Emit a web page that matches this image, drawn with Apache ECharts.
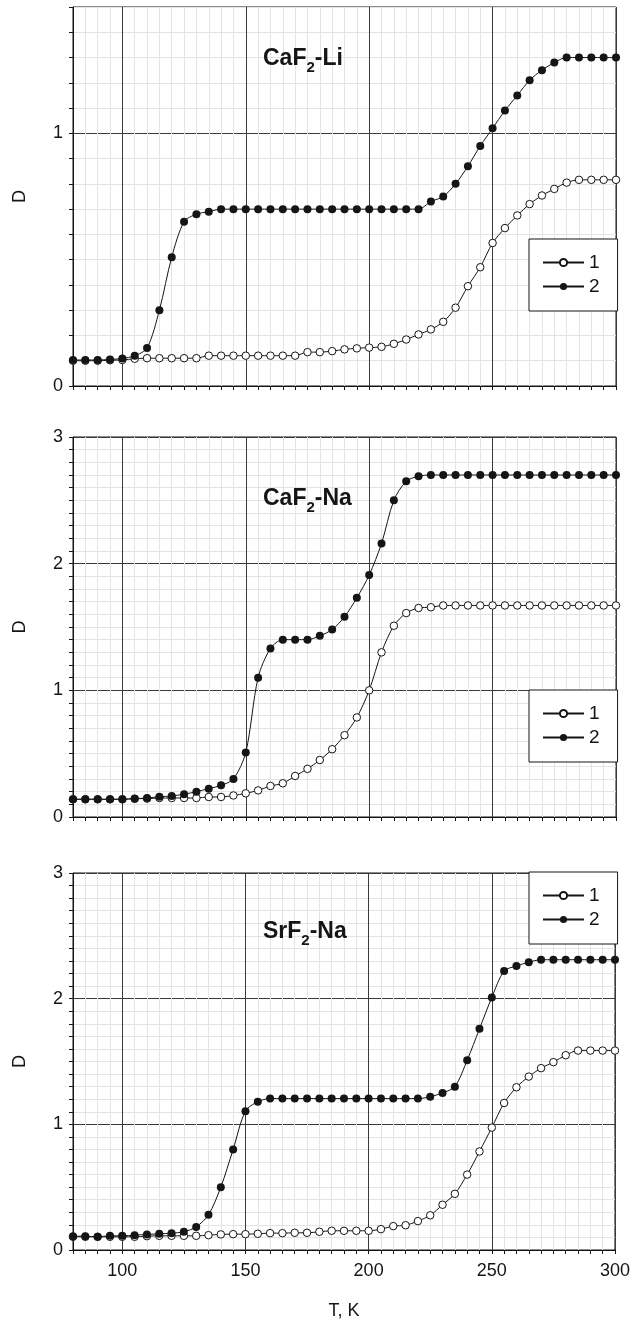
<!DOCTYPE html>
<html>
<head>
	<meta charset="utf-8">
	<title>D(T)</title>
	<script type="text/javascript" src="https://cdn.jsdelivr.net/npm/echarts@6/dist/echarts.min.js"></script>
	<style>html,body{margin:0;padding:0;background:#fff;}</style>
</head>
<body>
	<div id="mychar" style="width: 633px;height:1326px;"></div>

	<script type="text/javascript">
		// temperature, K
		var temps = [80, 85, 90, 95, 100, 105, 110, 115, 120, 125, 130, 135, 140, 145, 150,
			155, 160, 165, 170, 175, 180, 185, 190, 195, 200, 205, 210, 215, 220, 225,
			230, 235, 240, 245, 250, 255, 260, 265, 270, 275, 280, 285, 290, 295, 300];

		// CaF2-Li
		var caLi1 = [0.100, 0.100, 0.100, 0.102, 0.103, 0.108, 0.110, 0.110, 0.110, 0.110, 0.110, 0.120, 0.120, 0.120, 0.120,
			0.120, 0.120, 0.120, 0.120, 0.134, 0.134, 0.138, 0.145, 0.149, 0.152, 0.155, 0.167, 0.184, 0.204, 0.224,
			0.254, 0.310, 0.395, 0.470, 0.566, 0.625, 0.675, 0.720, 0.754, 0.780, 0.805, 0.816, 0.816, 0.816, 0.816];
		var caLi2 = [0.103, 0.103, 0.103, 0.105, 0.109, 0.120, 0.150, 0.300, 0.510, 0.650, 0.680, 0.690, 0.700, 0.700, 0.700,
			0.700, 0.700, 0.700, 0.700, 0.700, 0.700, 0.700, 0.700, 0.700, 0.700, 0.700, 0.700, 0.700, 0.700, 0.730,
			0.750, 0.800, 0.870, 0.950, 1.020, 1.090, 1.150, 1.210, 1.250, 1.280, 1.300, 1.300, 1.300, 1.300, 1.300];

		// CaF2-Na
		var caNa1 = [0.140, 0.140, 0.140, 0.140, 0.140, 0.145, 0.145, 0.150, 0.150, 0.150, 0.150, 0.158, 0.158, 0.170, 0.187,
			0.210, 0.245, 0.266, 0.324, 0.380, 0.450, 0.535, 0.646, 0.786, 1.000, 1.300, 1.510, 1.610, 1.650, 1.656,
			1.670, 1.670, 1.670, 1.670, 1.670, 1.670, 1.670, 1.670, 1.670, 1.670, 1.670, 1.670, 1.670, 1.670, 1.670];
		var caNa2 = [0.140, 0.140, 0.140, 0.140, 0.140, 0.145, 0.150, 0.160, 0.166, 0.180, 0.200, 0.224, 0.250, 0.300, 0.510,
			1.100, 1.330, 1.400, 1.400, 1.400, 1.430, 1.480, 1.580, 1.730, 1.910, 2.160, 2.500, 2.650, 2.690, 2.700,
			2.700, 2.700, 2.700, 2.700, 2.700, 2.700, 2.700, 2.700, 2.700, 2.700, 2.700, 2.700, 2.700, 2.700, 2.700];

		// SrF2-Na
		var srNa1 = [0.105, 0.105, 0.105, 0.105, 0.105, 0.105, 0.110, 0.113, 0.113, 0.113, 0.113, 0.118, 0.124, 0.126, 0.126,
			0.129, 0.134, 0.134, 0.137, 0.137, 0.145, 0.153, 0.153, 0.153, 0.153, 0.166, 0.190, 0.197, 0.230, 0.276,
			0.360, 0.447, 0.600, 0.784, 0.974, 1.170, 1.295, 1.380, 1.447, 1.495, 1.550, 1.587, 1.587, 1.587, 1.587];
		var srNa2 = [0.110, 0.110, 0.105, 0.113, 0.113, 0.118, 0.124, 0.129, 0.134, 0.145, 0.184, 0.280, 0.500, 0.800, 1.105,
			1.180, 1.205, 1.205, 1.205, 1.205, 1.205, 1.205, 1.205, 1.205, 1.205, 1.205, 1.205, 1.205, 1.205, 1.220,
			1.250, 1.300, 1.510, 1.760, 2.010, 2.220, 2.260, 2.290, 2.310, 2.310, 2.310, 2.310, 2.310, 2.310, 2.310];

		var titles = [['CaF', '-Li'], ['CaF', '-Na'], ['SrF', '-Na']];
		var yMax = [1.5, 3, 3];
		var seriesNames = ['1', '2'];
		var tickLabelsX = [100, 150, 200, 250, 300];

		var font = 'Liberation Sans, Arial, sans-serif';
		var ink = '#151515';
		var light = '#e4e4e4';
		var dark = '#3a3a3a';

		// panel boxes
		var tops = [7, 437, 873];
		var heights = [379, 380, 377];
		var titleTops = [43, 483, 916];
		var legendTops = [239, 690, 872];

		// split line colours: x ticks every 5 K from 80, dark every 50 K
		var xColors = [light, light, light, light, dark, light, light, light, light, light];
		// y ticks every 0.1, dark at whole numbers
		var yColors = [dark, light, light, light, light, light, light, light, light, light];

		var pairs = [[caLi1, caLi2], [caNa1, caNa2], [srNa1, srNa2]];

		function toXY(arr) {
			return temps.map(function (t, k) { return [t, arr[k]]; });
		}

		var grid = [], xAxis = [], yAxis = [], series = [], title = [], legend = [];

		for (var i = 0; i < 3; i++) {
			grid.push({
				left: 73, right: 17, top: tops[i], height: heights[i],
				show: true, borderColor: ink, borderWidth: 1, backgroundColor: '#fff'
			});
			xAxis.push({
				type: 'value', gridIndex: i, min: 80, max: 300, interval: 5,
				axisLine: { onZero: false, lineStyle: { color: ink, width: 1 } },
				axisTick: { length: 4, lineStyle: { color: ink } },
				axisLabel: {
					show: i === 2, margin: 12, fontSize: 18, color: ink, fontFamily: font,
					formatter: function (v) { return tickLabelsX.indexOf(v) >= 0 ? String(v) : ''; }
				},
				splitLine: { show: true, lineStyle: { color: xColors, width: 1 } },
				name: i === 2 ? 'T, K' : '', nameLocation: 'middle', nameGap: 52,
				nameTextStyle: { fontSize: 18, color: ink, fontFamily: font }
			});
			yAxis.push({
				type: 'value', gridIndex: i, min: 0, max: yMax[i], interval: 0.1,
				axisLine: { onZero: false, lineStyle: { color: ink, width: 1 } },
				axisTick: { length: 4, lineStyle: { color: ink } },
				axisLabel: {
					margin: 10, fontSize: 18, color: ink, fontFamily: font,
					formatter: function (v) { return Math.abs(v - Math.round(v)) < 1e-6 ? String(Math.round(v)) : ''; }
				},
				splitLine: { show: true, lineStyle: { color: yColors, width: 1 } },
				name: 'D', nameLocation: 'middle', nameGap: 44,
				nameTextStyle: { fontSize: 18, color: ink, fontFamily: font }
			});
			series.push({
				name: seriesNames[0], type: 'line', xAxisIndex: i, yAxisIndex: i,
				data: toXY(pairs[i][0]), smooth: 0.3, symbol: 'circle', symbolSize: 7.5,
				lineStyle: { color: ink, width: 1 },
				itemStyle: { color: '#fff', borderColor: ink, borderWidth: 1 }
			});
			series.push({
				name: seriesNames[1], type: 'line', xAxisIndex: i, yAxisIndex: i,
				data: toXY(pairs[i][1]), smooth: 0.3, symbol: 'circle', symbolSize: 8,
				lineStyle: { color: ink, width: 1 },
				itemStyle: { color: ink, borderColor: ink, borderWidth: 0 }
			});
			title.push({
				text: '{m|' + titles[i][0] + '}{s|2}{m|' + titles[i][1] + '}',
				left: 263, top: titleTops[i], padding: 0,
				textStyle: {
					rich: {
						m: { fontSize: 23, fontWeight: 'bold', fontFamily: font, color: ink, lineHeight: 32, verticalAlign: 'middle' },
						s: { fontSize: 15, fontWeight: 'bold', fontFamily: font, color: ink, lineHeight: 15, verticalAlign: 'bottom' }
					}
				}
			});
			legend.push({
				data: seriesNames, orient: 'vertical', left: 529, top: legendTops[i],
				padding: [14, 18, 15, 13], itemGap: 5, itemWidth: 41, itemHeight: 9,
				backgroundColor: '#fff', borderColor: ink, borderWidth: 1, borderRadius: 0,
				selectedMode: false,
				textStyle: { fontSize: 19, lineHeight: 17, color: ink, fontFamily: font }
			});
		}

		var mychar = echarts.init(document.getElementById("mychar"));
		var option = {
			animation: false,
			backgroundColor: '#fff',
			title: title,
			legend: legend,
			grid: grid,
			xAxis: xAxis,
			yAxis: yAxis,
			series: series
		};
		mychar.setOption(option);
	</script>
</body>
</html>
